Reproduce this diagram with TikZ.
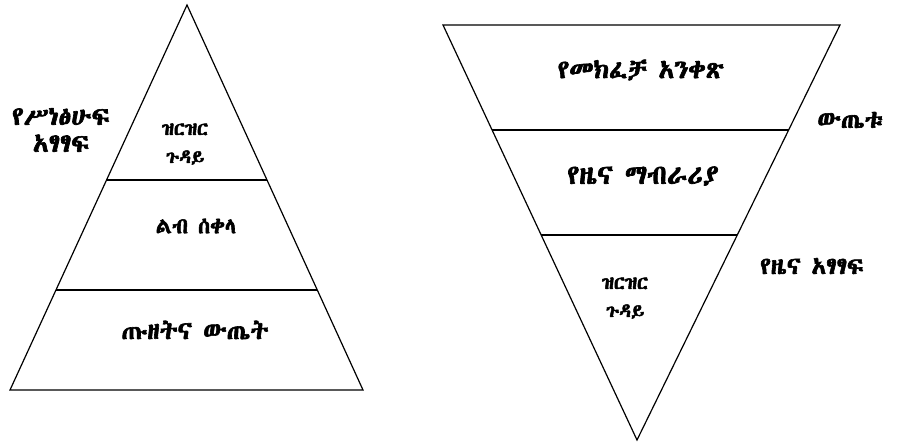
\documentclass[tikz,border=0pt]{standalone}
\usepackage{fontspec}
\usetikzlibrary{calc}
% Ethiopic face: take the first one that is installed
\IfFontExistsTF{Abyssinica SIL}{\newfontfamily\geez[Script=Ethiopic,FakeBold=2.5]{Abyssinica SIL}}{%
\IfFontExistsTF{Noto Serif Ethiopic}{\newfontfamily\geez[Script=Ethiopic,FakeBold=1.5]{Noto Serif Ethiopic}}{%
\IfFontExistsTF{Noto Sans Ethiopic}{\newfontfamily\geez[Script=Ethiopic,FakeBold=1.5]{Noto Sans Ethiopic}}{%
\IfFontExistsTF{FreeSerif}{\newfontfamily\geez[Script=Ethiopic,FakeBold=2.5]{FreeSerif}}{%
\newfontfamily\geez{DejaVu Sans}}}}}

\begin{document}
\begin{tikzpicture}[x=1pt,y=-1pt,line width=1.2pt,
  biglbl/.style={font=\geez\fontsize{25}{30}\selectfont},
  midlbl/.style={font=\geez\fontsize{26}{27}\selectfont, align=center},
  smalllbl/.style={font=\geez\fontsize{19}{28}\selectfont, align=center}]
  \useasboundingbox (0,0) rectangle (901,446);
  \def\tA{0.4545}
  \def\tB{0.7403}
  \def\tC{0.253}
  \def\tD{0.506}

  %Left pyramid
  \coordinate (LT) at (187,5);
  \coordinate (LL) at (10,390);
  \coordinate (LR) at (363,390);
  \draw (LT) -- (LL) -- (LR) -- cycle;
  \draw ($(LT)!\tA!(LL)$) -- ($(LT)!\tA!(LR)$);
  \draw ($(LT)!\tB!(LL)$) -- ($(LT)!\tB!(LR)$);

  \node[smalllbl] (detailL) at (185,144) {ዝርዝር\\ጉዳይ};
  \node[midlbl,font=\geez\fontsize{22}{27}\selectfont] (heartL) at (196,226) {ልብ ሰቀላ};
  \node[biglbl] (climaxL) at (195,330) {ጡዘትና ውጤት};
  \node[midlbl] (essayL) at (61,130) {የሥነፅሁፍ\\አፃፃፍ};

  %Right (inverted) pyramid
  \coordinate (RL) at (443,25);
  \coordinate (RR) at (840,25);
  \coordinate (RB) at (637,440);
  \draw (RL) -- (RR) -- (RB) -- cycle;
  \draw ($(RL)!\tC!(RB)$) -- ($(RR)!\tC!(RB)$);
  \draw ($(RL)!\tD!(RB)$) -- ($(RR)!\tD!(RB)$);

  \node[midlbl] (leadR) at (641,70) {የመክፈቻ አንቀጽ};
  \node[midlbl,font=\geez\fontsize{27}{27}\selectfont] (bodyR) at (643,176) {የዜና ማብራሪያ};
  \node[smalllbl] (detailR) at (625,298) {ዝርዝር\\ጉዳይ};
  \node[midlbl,font=\geez\fontsize{25}{24}\selectfont] (resultR) at (850,120) {ውጤቱ};
  \node[midlbl,font=\geez\fontsize{24}{24}\selectfont] (newsR) at (812,266) {የዜና አፃፃፍ};
\end{tikzpicture}
\end{document}
